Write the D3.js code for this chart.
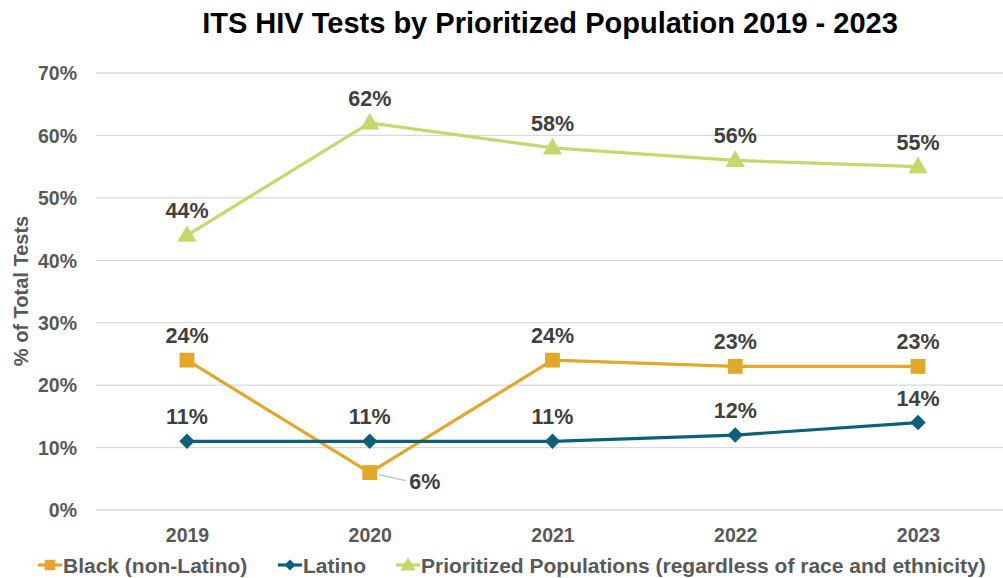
<!DOCTYPE html>
<html><head><meta charset="utf-8">
<script src="https://cdn.jsdelivr.net/npm/d3@7"></script>
<style>body{margin:0;background:#fff}svg{display:block;font-family:Arial,"Liberation Sans",sans-serif}</style>
</head><body>
<svg id="c" width="1003" height="578"></svg>
<script>
const years = ["2019","2020","2021","2022","2023"];
const black = [24, 6, 24, 23, 23];
const latino = [11, 11, 11, 12, 14];
const prioritized = [44, 62, 58, 56, 55];
const yTicks = [0,10,20,30,40,50,60,70];
const seriesNames = ["Black (non-Latino)","Latino","Prioritized Populations (regardless of race and ethnicity)"];

const svg = d3.select("#c");
const x = d3.scalePoint().domain(years).range([187, 918]);
const y = d3.scaleLinear().domain([0,70]).range([510, 73]);

svg.append("text").attr("x",550).attr("y",33).attr("text-anchor","middle")
  .attr("font-size",29).attr("font-weight","bold").attr("fill","#000")
  .text("ITS HIV Tests by Prioritized Population 2019 - 2023");

// grid
svg.append("g").selectAll("line").data(yTicks).join("line")
  .attr("x1",96).attr("x2",1003).attr("y1",d=>y(d)).attr("y2",d=>y(d))
  .attr("stroke","#d9d9d9").attr("stroke-width",1.3);

// y axis
const ya = svg.append("g").attr("transform","translate(77,0)")
  .call(d3.axisLeft(y).tickValues(yTicks).tickFormat(d=>d+"%").tickSize(0).tickPadding(0));
ya.select(".domain").remove();
ya.selectAll("text").attr("font-size",19.5).attr("font-weight","bold").attr("fill","#595959")
  .attr("font-family","Arial,'Liberation Sans',sans-serif").attr("dy","0.35em");

svg.append("text").attr("transform","translate(28,291) rotate(-90)").attr("text-anchor","middle")
  .attr("font-size",20).attr("font-weight","bold").attr("fill","#595959").text("% of Total Tests");

// x axis
const xa = svg.append("g").attr("transform","translate(0,535)")
  .call(d3.axisBottom(x).tickSize(0).tickPadding(0));
xa.select(".domain").remove();
xa.selectAll("text").attr("font-size",19.5).attr("font-weight","bold").attr("fill","#595959")
  .attr("font-family","Arial,'Liberation Sans',sans-serif").attr("dy","0.35em");

const series = [
  {name:seriesNames[0], vals:black, color:"#E3A72B", shape:"square"},
  {name:seriesNames[1], vals:latino, color:"#0E6079", shape:"diamond"},
  {name:seriesNames[2], vals:prioritized, color:"#C4D86C", shape:"triangle"}
];
const sym = {square:d3.symbolSquare, diamond:d3.symbolSquare, triangle:d3.symbolTriangle};
const rot = {square:0, diamond:45, triangle:0};
const sz = {square:220, diamond:120, triangle:160};
const line = d3.line().x((d,i)=>x(years[i])).y(d=>y(d));

[series[2], series[0], series[1]].forEach(s=>{
  svg.append("path").attr("d",line(s.vals)).attr("fill","none")
    .attr("stroke",s.color).attr("stroke-width",3.2);
  svg.append("g").selectAll("path").data(s.vals).join("path")
    .attr("transform",(d,i)=>`translate(${x(years[i])},${y(d)+(s.shape==="triangle"?1:0)}) rotate(${rot[s.shape]})`)
    .attr("d",d3.symbol(sym[s.shape], sz[s.shape])).attr("fill",s.color);
});

// labels
series.forEach(s=>{
  s.vals.forEach((v,i)=>{
    let lx = x(years[i]), ly = y(v) - 17;
    if (s === series[0] && i===1) {
      svg.append("line").attr("x1",lx+9).attr("y1",y(v)+2).attr("x2",lx+36).attr("y2",y(v)+8)
        .attr("stroke","#bfbfbf").attr("stroke-width",1.2);
      lx = lx + 55; ly = y(v) + 16;
    }
    svg.append("text").attr("x",lx).attr("y",ly).attr("text-anchor","middle")
      .attr("font-size",21.5).attr("font-weight","bold").attr("fill","#404040").text(v+"%");
  });
});

// legend
const lg = svg.append("g");
const legX = [50, 290, 408];
series.forEach((s,k)=>{
  lg.append("line").attr("x1",legX[k]-12).attr("x2",legX[k]+12).attr("y1",565).attr("y2",565)
    .attr("stroke",s.color).attr("stroke-width",3.2);
  lg.append("path").attr("transform",`translate(${legX[k]},${565+(k===2?1:0)}) rotate(${rot[s.shape]})`)
    .attr("d",d3.symbol(sym[s.shape], k===0?110:(k===1?60:100))).attr("fill",s.color);
  lg.append("text").attr("x",legX[k]+13).attr("y",572.5).attr("font-size",21)
    .attr("font-weight","bold").attr("fill","#595959").text(s.name);
});
</script>
</body></html>
